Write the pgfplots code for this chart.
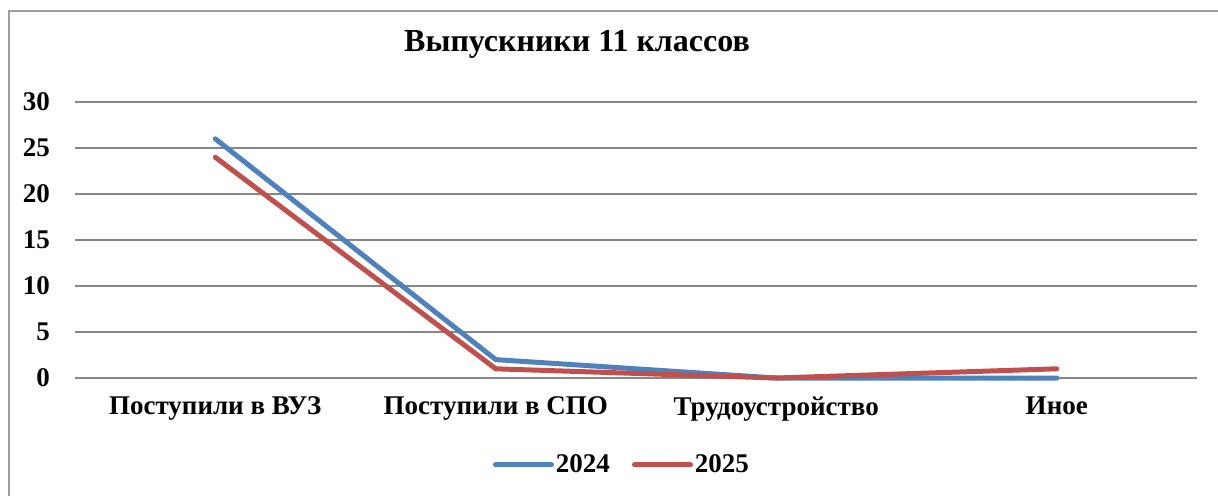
\documentclass[border=0pt]{standalone}
\usepackage{fontspec}
\setmainfont{Liberation Serif}
\usepackage{pgfplots}
\pgfplotsset{compat=1.18}
\definecolor{gridgray}{HTML}{868686}
\definecolor{s2024}{HTML}{4F81BD}
\definecolor{s2025}{HTML}{C0504D}
\begin{document}
\begin{tikzpicture}
\path[use as bounding box] (0,0) rectangle (609pt,247.5pt);
\draw[gridgray!80, line width=0.9pt] (4.5pt,-2pt) -- (4.5pt,242pt) -- (611pt,242pt);
\node[anchor=base, font=\bfseries\fontsize{16}{19}\selectfont] at (288.5pt,222pt) {Выпускники 11 классов};
\begin{axis}[
  at={(37.5pt,58.5pt)}, anchor=south west,
  scale only axis, width=561pt, height=138pt,
  xmin=-0.5, xmax=3.5, ymin=0, ymax=30,
  xtick={0,1,2,3},
  xticklabels={Поступили в ВУЗ, Поступили в СПО, Трудоустройство, Иное},
  ytick={0,5,10,15,20,25,30},
  ymajorgrids, grid style={gridgray, line width=1pt},
  axis line style={draw=none},
  major tick length=0pt,
  tick label style={font=\bfseries\fontsize{13.5}{16}\selectfont},
  /pgf/number format/assume math mode=true,
  yticklabel style={xshift=-9pt},
  xticklabel style={yshift=-6pt},
  clip=false,
  legend style={at={(0.4875,-0.315)}, anchor=center, draw=none, fill=none,
    legend columns=2, font=\bfseries\fontsize{13.5}{16}\selectfont,
    nodes={inner xsep=1pt},
    /tikz/every odd column/.append style={column sep=0pt},
    /tikz/every even column/.append style={column sep=10pt},
    legend cell align=left},
  legend image code/.code={\draw[#1, line cap=round] (0pt,0pt) -- (28pt,0pt);},
]
\addplot[s2024, line width=2.5pt, line cap=round, line join=round] coordinates {(0,26) (1,2) (2,0) (3,0)};
\addlegendentry{2024}
\addplot[s2025, line width=2.5pt, line cap=round, line join=round] coordinates {(0,24) (1,1) (2,0) (3,1)};
\addlegendentry{2025}
\end{axis}
\end{tikzpicture}
\end{document}
